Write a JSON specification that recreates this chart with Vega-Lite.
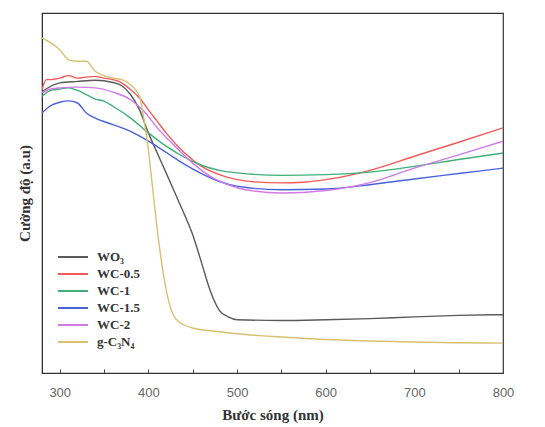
{
  "$schema": "https://vega.github.io/schema/vega-lite/v6.json",
  "width": 461,
  "height": 360,
  "autosize": "none",
  "padding": {"left": 42, "top": 13, "right": 42, "bottom": 54},
  "background": "white",
  "config": {"view": {"stroke": "#333", "strokeWidth": 1.2}},
  "datasets": {
    "d": [
      {"s":"WO₃","x":280,"y":78.2},{"s":"WO₃","x":300,"y":80.6},{"s":"WO₃","x":320,"y":81.0},{"s":"WO₃","x":340,"y":81.3},{"s":"WO₃","x":360,"y":80.7},{"s":"WO₃","x":370,"y":79.8},{"s":"WO₃","x":380,"y":77.3},{"s":"WO₃","x":390,"y":73.1},{"s":"WO₃","x":400,"y":66.7},{"s":"WO₃","x":410,"y":61.1},{"s":"WO₃","x":420,"y":55.6},{"s":"WO₃","x":430,"y":50.0},{"s":"WO₃","x":440,"y":44.4},{"s":"WO₃","x":450,"y":38.4},{"s":"WO₃","x":460,"y":30.6},{"s":"WO₃","x":470,"y":22.7},{"s":"WO₃","x":480,"y":17.4},{"s":"WO₃","x":490,"y":15.6},{"s":"WO₃","x":500,"y":14.8},{"s":"WO₃","x":550,"y":14.6},{"s":"WO₃","x":600,"y":14.8},{"s":"WO₃","x":650,"y":15.1},{"s":"WO₃","x":700,"y":15.6},{"s":"WO₃","x":750,"y":16.0},{"s":"WO₃","x":800,"y":16.2},

      {"s":"WC-0.5","x":280,"y":78.7},{"s":"WC-0.5","x":285,"y":81.5},{"s":"WC-0.5","x":290,"y":81.5},{"s":"WC-0.5","x":300,"y":81.9},{"s":"WC-0.5","x":310,"y":82.6},{"s":"WC-0.5","x":320,"y":81.9},{"s":"WC-0.5","x":330,"y":82.2},{"s":"WC-0.5","x":340,"y":82.4},{"s":"WC-0.5","x":350,"y":81.9},{"s":"WC-0.5","x":360,"y":81.5},{"s":"WC-0.5","x":370,"y":80.6},{"s":"WC-0.5","x":380,"y":78.7},{"s":"WC-0.5","x":390,"y":76.4},{"s":"WC-0.5","x":400,"y":73.1},{"s":"WC-0.5","x":410,"y":69.9},{"s":"WC-0.5","x":420,"y":66.7},{"s":"WC-0.5","x":440,"y":61.3},{"s":"WC-0.5","x":460,"y":57.4},{"s":"WC-0.5","x":480,"y":55.1},{"s":"WC-0.5","x":500,"y":53.7},{"s":"WC-0.5","x":520,"y":53.1},{"s":"WC-0.5","x":550,"y":52.8},{"s":"WC-0.5","x":575,"y":53.0},{"s":"WC-0.5","x":600,"y":53.7},{"s":"WC-0.5","x":650,"y":56.3},{"s":"WC-0.5","x":700,"y":60.2},{"s":"WC-0.5","x":750,"y":64.1},{"s":"WC-0.5","x":800,"y":68.1},

      {"s":"WC-1","x":280,"y":76.9},{"s":"WC-1","x":290,"y":78.5},{"s":"WC-1","x":300,"y":78.9},{"s":"WC-1","x":310,"y":79.2},{"s":"WC-1","x":320,"y":78.5},{"s":"WC-1","x":330,"y":77.3},{"s":"WC-1","x":340,"y":76.1},{"s":"WC-1","x":350,"y":75.5},{"s":"WC-1","x":360,"y":74.1},{"s":"WC-1","x":380,"y":70.8},{"s":"WC-1","x":400,"y":66.7},{"s":"WC-1","x":420,"y":63.0},{"s":"WC-1","x":440,"y":60.0},{"s":"WC-1","x":460,"y":57.7},{"s":"WC-1","x":480,"y":56.3},{"s":"WC-1","x":500,"y":55.6},{"s":"WC-1","x":550,"y":54.9},{"s":"WC-1","x":600,"y":55.1},{"s":"WC-1","x":650,"y":55.8},{"s":"WC-1","x":700,"y":57.4},{"s":"WC-1","x":750,"y":59.3},{"s":"WC-1","x":800,"y":61.1},

      {"s":"WC-1.5","x":280,"y":72.2},{"s":"WC-1.5","x":290,"y":74.3},{"s":"WC-1.5","x":300,"y":75.2},{"s":"WC-1.5","x":310,"y":75.6},{"s":"WC-1.5","x":320,"y":75.0},{"s":"WC-1.5","x":330,"y":72.2},{"s":"WC-1.5","x":340,"y":70.8},{"s":"WC-1.5","x":360,"y":69.0},{"s":"WC-1.5","x":380,"y":67.1},{"s":"WC-1.5","x":400,"y":64.4},{"s":"WC-1.5","x":420,"y":61.3},{"s":"WC-1.5","x":440,"y":58.1},{"s":"WC-1.5","x":460,"y":55.4},{"s":"WC-1.5","x":480,"y":53.2},{"s":"WC-1.5","x":500,"y":51.9},{"s":"WC-1.5","x":550,"y":50.9},{"s":"WC-1.5","x":600,"y":51.1},{"s":"WC-1.5","x":650,"y":52.3},{"s":"WC-1.5","x":700,"y":53.9},{"s":"WC-1.5","x":750,"y":55.4},{"s":"WC-1.5","x":800,"y":56.9},

      {"s":"WC-2","x":280,"y":77.8},{"s":"WC-2","x":290,"y":78.9},{"s":"WC-2","x":300,"y":79.2},{"s":"WC-2","x":320,"y":79.4},{"s":"WC-2","x":340,"y":79.2},{"s":"WC-2","x":360,"y":78.0},{"s":"WC-2","x":380,"y":75.9},{"s":"WC-2","x":395,"y":72.7},{"s":"WC-2","x":410,"y":68.1},{"s":"WC-2","x":430,"y":63.0},{"s":"WC-2","x":450,"y":58.3},{"s":"WC-2","x":470,"y":54.6},{"s":"WC-2","x":490,"y":52.3},{"s":"WC-2","x":510,"y":50.9},{"s":"WC-2","x":550,"y":50.0},{"s":"WC-2","x":600,"y":50.7},{"s":"WC-2","x":650,"y":52.9},{"s":"WC-2","x":700,"y":56.9},{"s":"WC-2","x":750,"y":60.6},{"s":"WC-2","x":800,"y":64.4},

      {"s":"g-C₃N₄","x":280,"y":93.1},{"s":"g-C₃N₄","x":290,"y":91.7},{"s":"g-C₃N₄","x":300,"y":89.8},{"s":"g-C₃N₄","x":310,"y":87.0},{"s":"g-C₃N₄","x":320,"y":86.6},{"s":"g-C₃N₄","x":330,"y":86.6},{"s":"g-C₃N₄","x":340,"y":83.8},{"s":"g-C₃N₄","x":350,"y":82.6},{"s":"g-C₃N₄","x":360,"y":81.9},{"s":"g-C₃N₄","x":370,"y":81.5},{"s":"g-C₃N₄","x":380,"y":80.1},{"s":"g-C₃N₄","x":390,"y":76.9},{"s":"g-C₃N₄","x":395,"y":70.4},{"s":"g-C₃N₄","x":400,"y":62.0},{"s":"g-C₃N₄","x":405,"y":50.9},{"s":"g-C₃N₄","x":410,"y":39.8},{"s":"g-C₃N₄","x":415,"y":30.6},{"s":"g-C₃N₄","x":420,"y":23.1},{"s":"g-C₃N₄","x":425,"y":18.1},{"s":"g-C₃N₄","x":430,"y":15.3},{"s":"g-C₃N₄","x":440,"y":13.4},{"s":"g-C₃N₄","x":450,"y":12.5},{"s":"g-C₃N₄","x":475,"y":11.6},{"s":"g-C₃N₄","x":500,"y":10.9},{"s":"g-C₃N₄","x":550,"y":10.0},{"s":"g-C₃N₄","x":600,"y":9.3},{"s":"g-C₃N₄","x":650,"y":8.9},{"s":"g-C₃N₄","x":700,"y":8.6},{"s":"g-C₃N₄","x":750,"y":8.4},{"s":"g-C₃N₄","x":800,"y":8.3}
    ]
  },
  "data": {"name": "d"},
  "mark": {"type": "line", "strokeWidth": 1.4, "clip": true, "interpolate": "monotone"},
  "encoding": {
    "x": {
      "field": "x", "type": "quantitative",
      "scale": {"domain": [280, 800], "nice": false, "zero": false},
      "axis": {
        "values": [300, 350, 400, 450, 500, 550, 600, 650, 700, 750, 800],
        "labelExpr": "datum.value % 100 == 0 ? datum.label : ''",
        "labelFlush": false, "labelOverlap": false,
        "grid": false, "tickSize": -4, "tickColor": "#444", "domainColor": "#333",
        "labelFont": "Liberation Sans", "labelFontSize": 13, "labelColor": "#666", "labelPadding": 17,
        "title": "Bước sóng (nm)", "titleFont": "Liberation Serif", "titleFontSize": 15,
        "titleFontWeight": "bold", "titleColor": "#333", "titlePadding": 8
      }
    },
    "y": {
      "field": "y", "type": "quantitative",
      "scale": {"domain": [0, 100], "nice": false},
      "axis": {
        "ticks": false, "labels": false, "grid": false, "domainColor": "#333",
        "title": "Cường độ (a.u)", "titleFont": "Liberation Serif", "titleFontSize": 15,
        "titleFontWeight": "bold", "titleColor": "#333", "titlePadding": 10
      }
    },
    "color": {
      "field": "s", "type": "nominal",
      "scale": {
        "domain": ["WO₃", "WC-0.5", "WC-1", "WC-1.5", "WC-2", "g-C₃N₄"],
        "range": ["#5a5a5a", "#f05a5a", "#3fb078", "#4a62d8", "#d07ae8", "#d8c070"]
      },
      "legend": {
        "title": null, "orient": "none", "legendX": 15, "legendY": 237,
        "symbolType": "stroke", "symbolSize": 900, "symbolStrokeWidth": 2,
        "clipHeight": 14, "rowPadding": 3,
        "labelFont": "Liberation Serif", "labelFontSize": 13, "labelFontWeight": "bold",
        "labelColor": "#333", "labelOffset": 8
      }
    }
  }
}
